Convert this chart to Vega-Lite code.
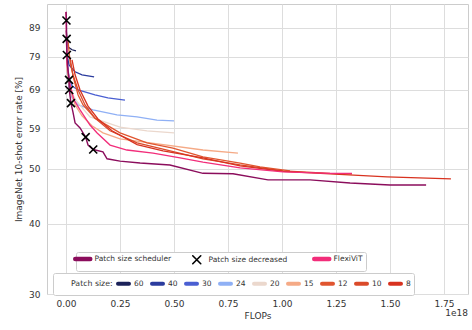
{
  "$schema": "https://vega.github.io/schema/vega-lite/v6.json",
  "width": 421,
  "height": 290,
  "autosize": {"type": "none"},
  "padding": {"left": 47, "top": 4, "right": 4, "bottom": 36},
  "title": {"text": "1e18", "orient": "bottom", "anchor": "end", "frame": "group", "fontSize": 9, "fontWeight": "normal", "color": "#333333", "offset": -11},
  "datasets": {
    "fixed": [
      {"p":"60","f":0.001,"e":88},{"p":"60","f":0.005,"e":84.6},{"p":"60","f":0.01,"e":82.2},{"p":"60","f":0.028,"e":81.3},{"p":"60","f":0.046,"e":80.9},
      {"p":"40","f":0.002,"e":86},{"p":"40","f":0.005,"e":79.6},{"p":"40","f":0.014,"e":76.4},{"p":"40","f":0.042,"e":74.3},{"p":"40","f":0.074,"e":73.4},{"p":"40","f":0.102,"e":73.1},{"p":"40","f":0.13,"e":72.8},
      {"p":"30","f":0.002,"e":86},{"p":"30","f":0.005,"e":78},{"p":"30","f":0.014,"e":72.4},{"p":"30","f":0.028,"e":70.1},{"p":"30","f":0.056,"e":69.0},{"p":"30","f":0.134,"e":67.6},{"p":"30","f":0.194,"e":66.8},{"p":"30","f":0.273,"e":66.2},
      {"p":"24","f":0.002,"e":86},{"p":"24","f":0.005,"e":74.9},{"p":"24","f":0.014,"e":69.6},{"p":"24","f":0.028,"e":66.8},{"p":"24","f":0.056,"e":64.9},{"p":"24","f":0.125,"e":63.6},{"p":"24","f":0.236,"e":62.3},{"p":"24","f":0.329,"e":61.8},{"p":"24","f":0.421,"e":61.0},{"p":"24","f":0.5,"e":60.8},
      {"p":"20","f":0.002,"e":86},{"p":"20","f":0.005,"e":74.9},{"p":"20","f":0.019,"e":69.0},{"p":"20","f":0.046,"e":66.2},{"p":"20","f":0.083,"e":63.6},{"p":"20","f":0.111,"e":61.8},{"p":"20","f":0.25,"e":59.3},{"p":"20","f":0.375,"e":58.4},{"p":"20","f":0.5,"e":57.9},
      {"p":"15","f":0.002,"e":86},{"p":"15","f":0.005,"e":74.9},{"p":"15","f":0.019,"e":69.0},{"p":"15","f":0.042,"e":64.9},{"p":"15","f":0.074,"e":62.1},{"p":"15","f":0.12,"e":59.6},{"p":"15","f":0.171,"e":57.9},{"p":"15","f":0.25,"e":56.5},{"p":"15","f":0.389,"e":55.6},{"p":"15","f":0.634,"e":54.0},{"p":"15","f":0.796,"e":53.3},
      {"p":"12","f":0.009,"e":84.6},{"p":"12","f":0.019,"e":77.3},{"p":"12","f":0.037,"e":71.9},{"p":"12","f":0.056,"e":67.6},{"p":"12","f":0.079,"e":64.9},{"p":"12","f":0.134,"e":61.5},{"p":"12","f":0.25,"e":57.9},{"p":"12","f":0.375,"e":55.6},{"p":"12","f":0.495,"e":54.4},{"p":"12","f":0.634,"e":52.5},{"p":"12","f":0.806,"e":51.2},{"p":"12","f":0.898,"e":50.4},{"p":"12","f":1.037,"e":49.6},
      {"p":"10","f":0.019,"e":78.6},{"p":"10","f":0.032,"e":73.4},{"p":"10","f":0.056,"e":69.0},{"p":"10","f":0.088,"e":64.9},{"p":"10","f":0.134,"e":61.5},{"p":"10","f":0.204,"e":58.4},{"p":"10","f":0.329,"e":55.6},{"p":"10","f":0.449,"e":54.2},{"p":"10","f":0.634,"e":52.1},{"p":"10","f":0.806,"e":50.8},{"p":"10","f":1.005,"e":49.6},{"p":"10","f":1.222,"e":49.1},{"p":"10","f":1.324,"e":49.0},
      {"p":"8","f":0.028,"e":78.0},{"p":"8","f":0.042,"e":73.4},{"p":"8","f":0.065,"e":69.0},{"p":"8","f":0.102,"e":64.6},{"p":"8","f":0.148,"e":61.3},{"p":"8","f":0.213,"e":58.4},{"p":"8","f":0.329,"e":55.2},{"p":"8","f":0.449,"e":53.8},{"p":"8","f":0.634,"e":52.3},{"p":"8","f":0.806,"e":50.6},{"p":"8","f":1.005,"e":49.5},{"p":"8","f":1.222,"e":49.0},{"p":"8","f":1.486,"e":48.4},{"p":"8","f":1.782,"e":48.0}
    ],
    "flexi": [
      {"k":"FlexiViT","f":0,"e":94.9},{"k":"FlexiViT","f":0.002,"e":84.6},{"k":"FlexiViT","f":0.005,"e":76.4},{"k":"FlexiViT","f":0.019,"e":70.4},{"k":"FlexiViT","f":0.037,"e":66.2},{"k":"FlexiViT","f":0.065,"e":63.6},{"k":"FlexiViT","f":0.111,"e":59.8},{"k":"FlexiViT","f":0.144,"e":57.9},{"k":"FlexiViT","f":0.204,"e":55.1},{"k":"FlexiViT","f":0.282,"e":54.0},{"k":"FlexiViT","f":0.403,"e":53.3},{"k":"FlexiViT","f":0.528,"e":52.3},{"k":"FlexiViT","f":0.634,"e":51.4},{"k":"FlexiViT","f":0.806,"e":50.2},{"k":"FlexiViT","f":1.005,"e":49.4},{"k":"FlexiViT","f":1.222,"e":49.1},{"k":"FlexiViT","f":1.324,"e":49.1}
    ],
    "sched": [
      {"k":"Patch size scheduler","f":0,"e":94.9},{"k":"Patch size scheduler","f":0.002,"e":91.6},{"k":"Patch size scheduler","f":0.003,"e":85.0},{"k":"Patch size scheduler","f":0.004,"e":79.6},{"k":"Patch size scheduler","f":0.009,"e":74.9},{"k":"Patch size scheduler","f":0.014,"e":71.9},{"k":"Patch size scheduler","f":0.015,"e":69.0},{"k":"Patch size scheduler","f":0.023,"e":65.4},{"k":"Patch size scheduler","f":0.032,"e":63.1},{"k":"Patch size scheduler","f":0.042,"e":60.3},{"k":"Patch size scheduler","f":0.065,"e":59.1},{"k":"Patch size scheduler","f":0.091,"e":56.9},{"k":"Patch size scheduler","f":0.102,"e":55.1},{"k":"Patch size scheduler","f":0.126,"e":54.1},{"k":"Patch size scheduler","f":0.171,"e":53.6},{"k":"Patch size scheduler","f":0.19,"e":52.1},{"k":"Patch size scheduler","f":0.25,"e":51.6},{"k":"Patch size scheduler","f":0.343,"e":51.2},{"k":"Patch size scheduler","f":0.481,"e":50.8},{"k":"Patch size scheduler","f":0.634,"e":49.1},{"k":"Patch size scheduler","f":0.773,"e":49.0},{"k":"Patch size scheduler","f":0.935,"e":47.8},{"k":"Patch size scheduler","f":1.13,"e":47.8},{"k":"Patch size scheduler","f":1.315,"e":47.2},{"k":"Patch size scheduler","f":1.5,"e":46.8},{"k":"Patch size scheduler","f":1.667,"e":46.8}
    ],
    "marks": [
      {"k":"Patch size decreased","f":0.002,"e":91.6},{"k":"Patch size decreased","f":0.003,"e":85.0},{"k":"Patch size decreased","f":0.004,"e":79.6},{"k":"Patch size decreased","f":0.014,"e":71.9},{"k":"Patch size decreased","f":0.015,"e":69.0},{"k":"Patch size decreased","f":0.023,"e":65.4},{"k":"Patch size decreased","f":0.091,"e":56.9},{"k":"Patch size decreased","f":0.126,"e":54.1}
    ]
  },
  "encoding": {
    "x": {"field": "f", "type": "quantitative", "scale": {"domain": [-0.088, 1.861], "nice": false, "zero": false},
      "axis": {"values": [0, 0.25, 0.5, 0.75, 1, 1.25, 1.5, 1.75], "format": ".2f", "title": "FLOPs", "labelPadding": 5, "titlePadding": 3}},
    "y": {"field": "e", "type": "quantitative", "scale": {"type": "log", "domain": [30, 98], "nice": false},
      "axis": {"values": [30, 40, 50, 59, 69, 79, 89], "format": "d", "title": "ImageNet 10-shot error rate [%]", "labelPadding": 7, "titlePadding": 5}}
  },
  "layer": [
    {
      "data": {"name": "fixed"},
      "mark": {"type": "line", "strokeWidth": 1.3},
      "encoding": {
        "stroke": {"field": "p", "type": "nominal",
          "scale": {"domain": ["60","40","30","24","20","15","12","10","8"], "range": ["#1b2259","#2b3c9e","#4a5fd2","#8fb0f5","#ebd8cd","#f5aa86","#e0552f","#da4a2a","#d8321f"]},
          "legend": {"title": "Patch size:", "orient": "none", "legendX": 6, "legendY": 269, "direction": "horizontal", "columns": 9, "titleOrient": "left", "titlePadding": 18,
            "symbolType": "stroke", "symbolStrokeWidth": 4, "symbolSize": 121, "labelOffset": 3, "columnPadding": 0,
            "labelFontSize": 7.5, "titleFontSize": 7.8, "titleFontWeight": "normal", "labelColor": "#333333", "titleColor": "#333333",
            "fillColor": "#ffffff", "strokeColor": "#cccccc", "cornerRadius": 2, "padding": 3,
            "encode": {"symbols": {"update": {"strokeCap": {"value": "round"}}}, "title": {"update": {"dx": {"value": 15}}}}}
        }
      }
    },
    {
      "data": {"name": "flexi"},
      "mark": {"type": "line", "strokeWidth": 1.3},
      "encoding": {
        "color": {"field": "k", "type": "nominal",
          "scale": {"domain": ["Patch size scheduler", "Patch size decreased", "FlexiViT"], "range": ["#8b0d5c", "#000000", "#f22d7a"]},
          "legend": {"title": null, "orient": "none", "legendX": 29, "legendY": 248, "direction": "horizontal", "columns": 3,
            "labelOffset": 8, "columnPadding": 17, "labelFontSize": 7.5, "labelColor": "#333333",
            "fillColor": "#ffffff", "strokeColor": "#cccccc", "cornerRadius": 2, "padding": 3,
            "encode": {"symbols": {"update": {
              "strokeWidth": {"signal": "datum.value === 'Patch size decreased' ? 1.6 : 4.5"},
              "size": {"signal": "datum.value === 'Patch size decreased' ? 64 : 225"},
              "strokeCap": {"value": "round"}}}}}}
      }
    },
    {
      "data": {"name": "sched"},
      "mark": {"type": "line", "strokeWidth": 1.4},
      "encoding": {
        "color": {"field": "k", "type": "nominal",
          "legend": {"title": null, "orient": "none", "legendX": 29, "legendY": 248, "direction": "horizontal", "columns": 3,
            "labelOffset": 8, "columnPadding": 17, "labelFontSize": 7.5, "labelColor": "#333333",
            "fillColor": "#ffffff", "strokeColor": "#cccccc", "cornerRadius": 2, "padding": 3,
            "encode": {"symbols": {"update": {
              "strokeWidth": {"signal": "datum.value === 'Patch size decreased' ? 1.6 : 4.5"},
              "size": {"signal": "datum.value === 'Patch size decreased' ? 64 : 225"},
              "strokeCap": {"value": "round"}}}}}}
      }
    },
    {
      "data": {"name": "marks"},
      "mark": {"type": "point", "filled": false, "strokeWidth": 1.6, "opacity": 1, "size": 64},
      "encoding": {
        "color": {"field": "k", "type": "nominal",
          "legend": {"title": null, "orient": "none", "legendX": 29, "legendY": 248, "direction": "horizontal", "columns": 3,
            "labelOffset": 8, "columnPadding": 17, "labelFontSize": 7.5, "labelColor": "#333333",
            "fillColor": "#ffffff", "strokeColor": "#cccccc", "cornerRadius": 2, "padding": 3,
            "encode": {"symbols": {"update": {
              "strokeWidth": {"signal": "datum.value === 'Patch size decreased' ? 1.6 : 4.5"},
              "size": {"signal": "datum.value === 'Patch size decreased' ? 64 : 225"},
              "strokeCap": {"value": "round"}}}}}},
        "shape": {"field": "k", "type": "nominal",
          "scale": {"domain": ["Patch size scheduler", "Patch size decreased", "FlexiViT"], "range": ["stroke", "M-1,-1L1,1M-1,1L1,-1", "stroke"]},
          "legend": {"title": null, "orient": "none", "legendX": 29, "legendY": 248, "direction": "horizontal", "columns": 3,
            "labelOffset": 8, "columnPadding": 17, "labelFontSize": 7.5, "labelColor": "#333333",
            "fillColor": "#ffffff", "strokeColor": "#cccccc", "cornerRadius": 2, "padding": 3,
            "encode": {"symbols": {"update": {
              "strokeWidth": {"signal": "datum.value === 'Patch size decreased' ? 1.6 : 4.5"},
              "size": {"signal": "datum.value === 'Patch size decreased' ? 64 : 225"},
              "strokeCap": {"value": "round"}}}}}}
      }
    }
  ],
  "config": {
    "font": "DejaVu Sans",
    "view": {"stroke": "#cccccc", "strokeWidth": 1},
    "axis": {"grid": true, "gridColor": "#dddddd", "gridWidth": 1, "domain": false, "ticks": false,
      "labelFontSize": 9, "labelColor": "#333333", "titleFontSize": 9, "titleFontWeight": "normal", "titleColor": "#333333"}
  }
}
